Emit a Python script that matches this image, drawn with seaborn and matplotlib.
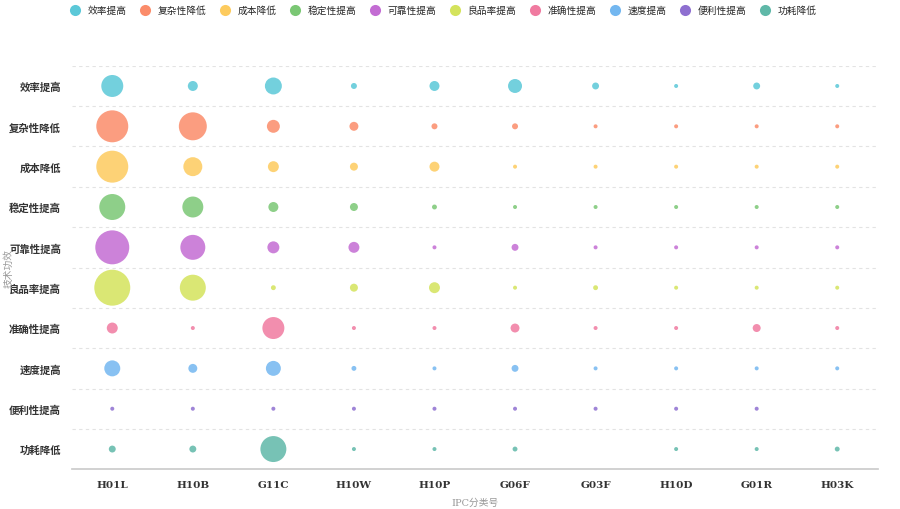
import matplotlib
matplotlib.use("Agg")
import matplotlib.pyplot as plt
import seaborn as sns
import pandas as pd
import numpy as np
from matplotlib.lines import Line2D

ipc = ["H01L", "H10B", "G11C", "H10W", "H10P", "G06F", "G03F", "H10D", "G01R", "H03K"]
effects = ["效率提高", "复杂性降低", "成本降低", "稳定性提高", "可靠性提高",
           "良品率提高", "准确性提高", "速度提高", "便利性提高", "功耗降低"]
colors = ["#5bc8d8", "#fb8c6a", "#fdcb5e", "#7ac774", "#c36cd3",
          "#d4e35c", "#f07aa0", "#73b7f0", "#8e6fd0", "#5fb8a8"]
counts = [
    [121, 25, 72, 9, 25, 49, 12, 4, 12, 4],
    [256, 196, 42, 20, 9, 9, 4, 4, 4, 4],
    [256, 90, 30, 16, 25, 4, 4, 4, 4, 4],
    [169, 110, 25, 16, 6, 4, 4, 4, 4, 4],
    [289, 156, 36, 30, 4, 12, 4, 4, 4, 4],
    [324, 169, 6, 16, 30, 4, 6, 4, 4, 4],
    [30, 4, 121, 4, 4, 20, 4, 4, 16, 4],
    [64, 20, 56, 6, 4, 12, 4, 4, 4, 4],
    [4, 4, 4, 4, 4, 4, 4, 4, 4, None],
    [12, 12, 169, 4, 4, 6, None, 4, 4, 6],
]

rows = []
for i, e in enumerate(effects):
    for j, c in enumerate(ipc):
        v = counts[i][j]
        if v is not None:
            rows.append({"ipc": c, "effect": e, "count": v})
df = pd.DataFrame(rows)

sns.set_theme(style="white")
plt.rcParams['font.family'] = ['Noto Sans CJK SC', 'DejaVu Sans']

fig = plt.figure(figsize=(9, 5.1), dpi=100)
ax = fig.add_axes([0.08, 0.078, 0.895, 0.791])
vmin, vmax = df["count"].min(), df["count"].max()
k = 2.07
sns.scatterplot(data=df, x="ipc", y="effect", hue="effect", hue_order=effects,
                palette=colors, size="count", sizes=(vmin * k, vmax * k),
                size_norm=(vmin, vmax), alpha=0.85, linewidth=0, legend=False, ax=ax)
ax.set_xlim(-0.5, len(ipc) - 0.5)
ax.set_ylim(len(effects) - 0.5, -0.5)
ax.set_xticks(range(len(ipc)))
ax.set_xticklabels(ipc, family="DejaVu Serif", fontweight="bold", fontsize=7.5, color="#333333")
ax.set_yticks(range(len(effects)))
ax.set_yticklabels(effects, fontweight="bold", fontsize=7.5, color="#333333")
ax.set_yticks(np.arange(-0.5, len(effects), 1), minor=True)
ax.grid(which="minor", axis="y", linestyle=(0, (3, 3)), color="#e3e3e3", linewidth=0.8)
ax.tick_params(axis="both", which="both", length=0, pad=8)
for s in ["top", "right", "left"]:
    ax.spines[s].set_visible(False)
ax.spines["bottom"].set_color("#cccccc")
ax.set_xlabel("IPC分类号", fontsize=7, color="#999999",
              family=["DejaVu Serif", "Noto Sans CJK SC"], labelpad=6)
ax.set_ylabel("技术功效", fontsize=7, color="#999999", labelpad=0)
ax.yaxis.set_label_coords(-0.072, 0.5)

handles = [Line2D([0], [0], marker="o", linestyle="", markersize=8, markerfacecolor=c,
                  markeredgewidth=0, label=e) for e, c in zip(effects, colors)]
fig.legend(handles=handles, loc="upper center", bbox_to_anchor=(0.49, 1.005), ncol=10,
           frameon=False, fontsize=7, handletextpad=0.3, columnspacing=0.9)
fig.savefig("out.png", dpi=100, facecolor="white")
